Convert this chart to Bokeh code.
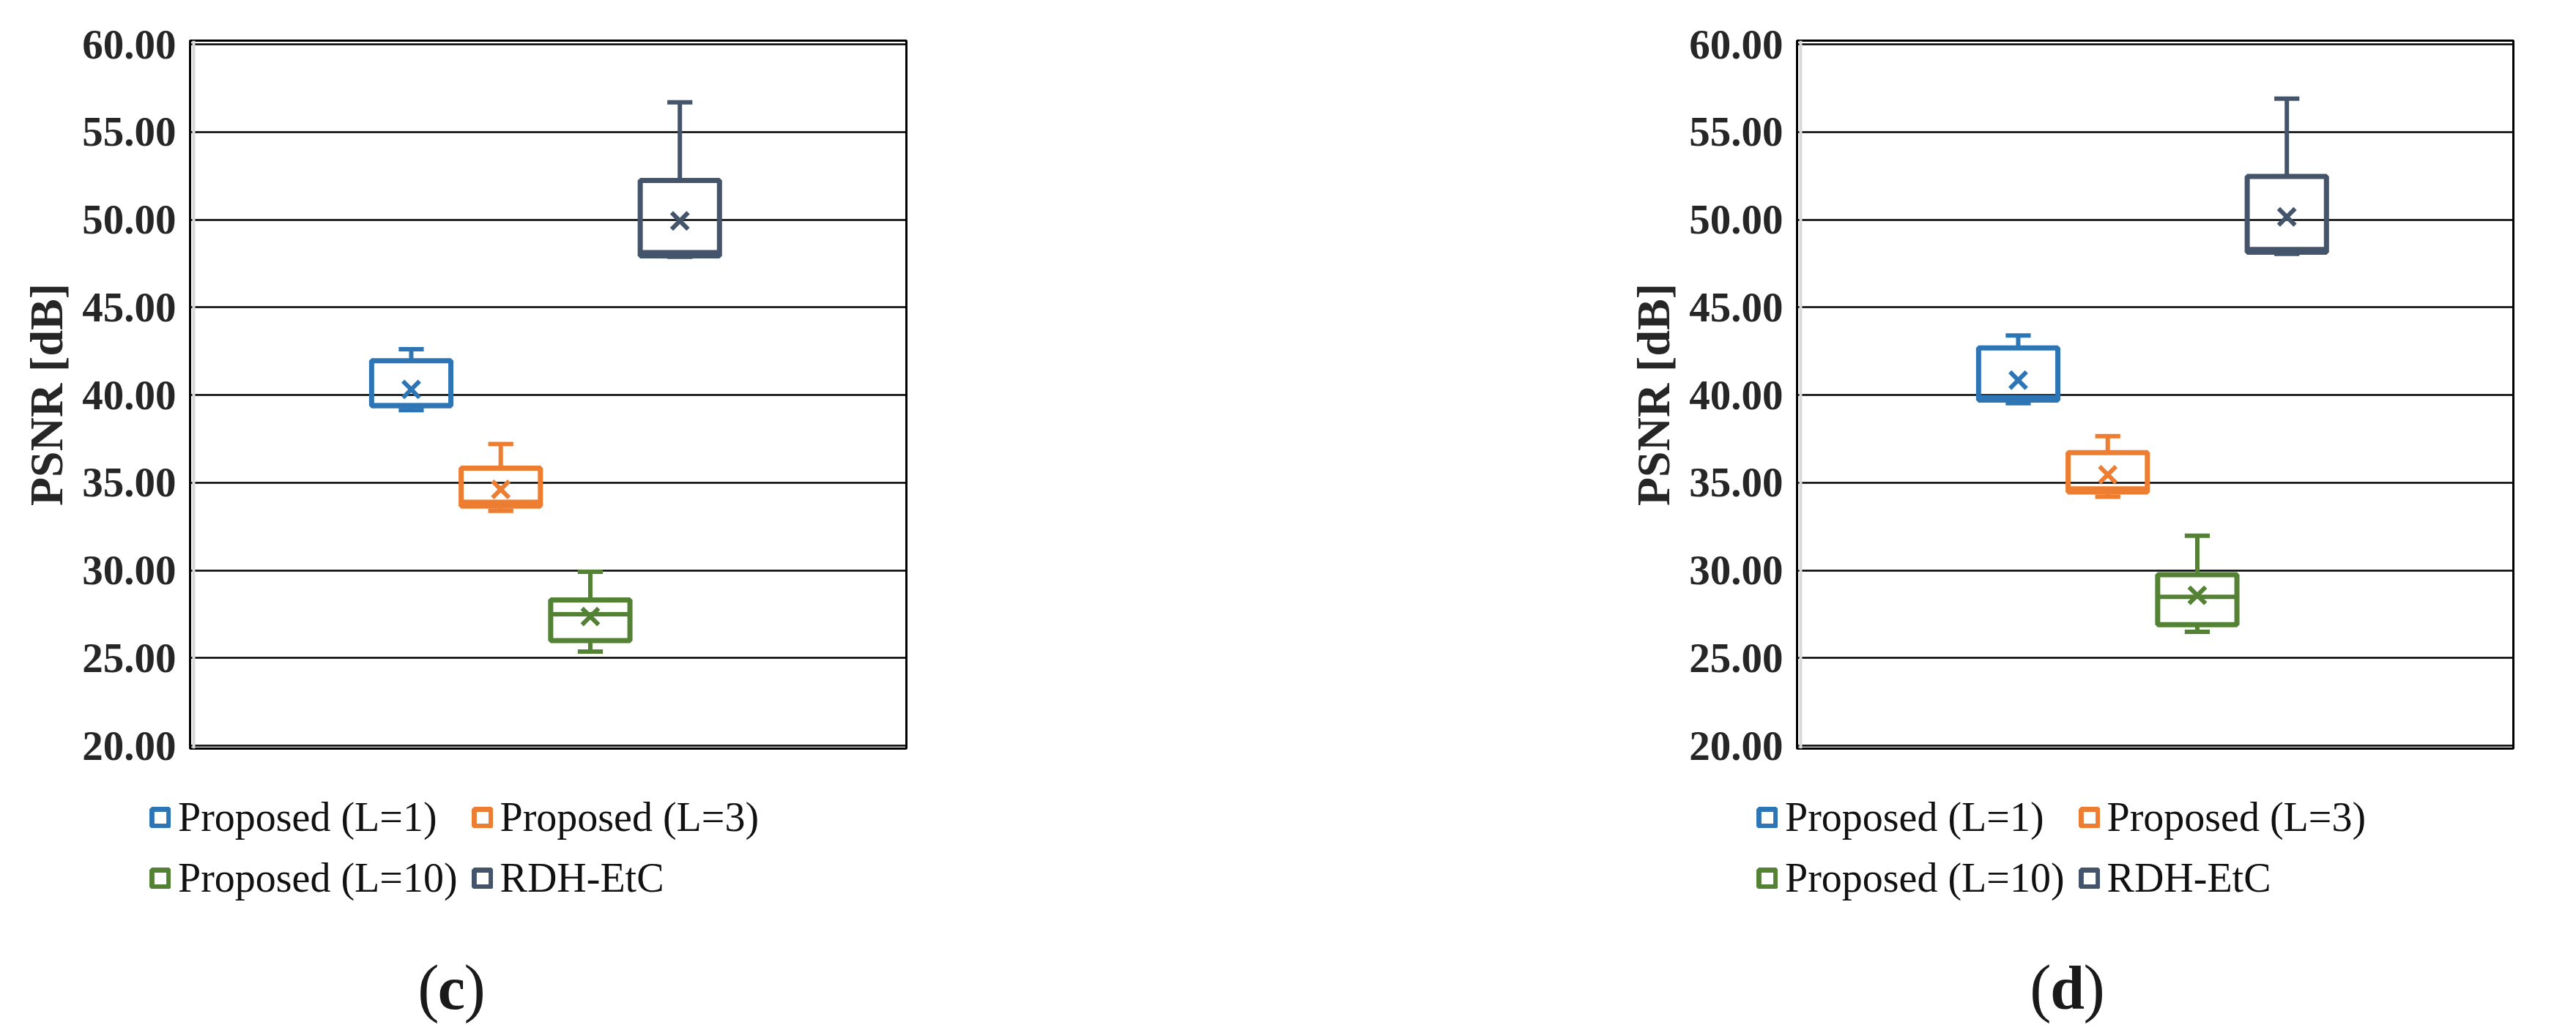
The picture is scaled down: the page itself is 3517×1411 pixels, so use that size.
from bokeh.plotting import figure
from bokeh.layouts import row, column
from bokeh.models import (Range1d, FixedTicker, PrintfTickFormatter, Legend, LegendItem,
                          Label, Span, ColumnDataSource)
from bokeh.embed import file_html
from bokeh.resources import INLINE

# ---------------- data ----------------
series_names = ["Proposed (L=1)", "Proposed (L=3)", "Proposed (L=10)", "RDH-EtC"]
colors = ["#2E75B6", "#ED7D31", "#548235", "#44546A"]
y_ticks = [20, 25, 30, 35, 40, 45, 50, 55, 60]
y_label = "PSNR [dB]"

# panel (c)
c_min    = [39.14, 33.40, 25.37, 47.88]
c_q1     = [39.39, 33.67, 26.00, 47.94]
c_median = [39.42, 33.91, 27.50, 48.14]
c_q3     = [41.96, 35.83, 28.31, 52.24]
c_max    = [42.61, 37.21, 29.92, 56.69]
c_mean   = [40.32, 34.62, 27.37, 49.93]

# panel (d)
d_min    = [39.53, 34.20, 26.50, 48.05]
d_q1     = [39.71, 34.47, 26.91, 48.14]
d_median = [39.88, 34.67, 28.49, 48.32]
d_q3     = [42.69, 36.72, 29.75, 52.47]
d_max    = [43.40, 37.66, 31.98, 56.90]
d_mean   = [40.85, 35.46, 28.58, 50.16]

SERIF = "Liberation Serif"
MAIN_H = 1052
BOT_H = 1411 - MAIN_H
LEG_TOP = 1084


def box_source(mins, q1, med, q3, maxs, means):
    xs = list(range(len(series_names)))
    bw = 0.885   # box width (units)
    cw = 0.28    # cap width
    return ColumnDataSource(dict(
        x=xs, left=[x - bw / 2 for x in xs], right=[x + bw / 2 for x in xs],
        cl=[x - cw / 2 for x in xs], cr=[x + cw / 2 for x in xs],
        mn=mins, q1=q1, med=med, q3=q3, mx=maxs, mean=means, color=colors))


def make_panel(src, width, bl, br):
    p = figure(width=width, height=MAIN_H, x_range=Range1d(-2.47, 5.53),
               y_range=Range1d(19.84, 60.21), x_axis_type=None,
               toolbar_location=None, output_backend="svg", frame_align=False,
               min_border_left=bl, min_border_right=br,
               min_border_top=55, min_border_bottom=30,
               outline_line_color="black", outline_line_width=3,
               background_fill_color="white", border_fill_color="white")

    p.add_layout(Span(location=-2.47 + 5 / 122.25, dimension="height",
                      line_color="#D9D9D9", line_width=4, level="underlay"))

    p.segment(x0="x", y0="q3", x1="x", y1="mx", source=src, line_color="color", line_width=6)
    p.segment(x0="x", y0="mn", x1="x", y1="q1", source=src, line_color="color", line_width=6)
    p.segment(x0="cl", y0="mx", x1="cr", y1="mx", source=src, line_color="color", line_width=6)
    p.segment(x0="cl", y0="mn", x1="cr", y1="mn", source=src, line_color="color", line_width=6)
    p.quad(left="left", right="right", bottom="q1", top="q3", source=src,
           fill_color=None, line_color="color", line_width=7)
    p.segment(x0="left", y0="med", x1="right", y1="med", source=src, line_color="color", line_width=6)
    p.scatter(x="x", y="mean", source=src, marker="x", size=32, line_width=6, line_color="color")

    p.yaxis.ticker = FixedTicker(ticks=y_ticks)
    p.yaxis.formatter = PrintfTickFormatter(format="%.2f")
    p.yaxis.major_label_text_font = SERIF
    p.yaxis.major_label_text_font_style = "bold"
    p.yaxis.major_label_text_font_size = "57px"
    p.yaxis.major_label_text_color = "#262626"
    p.yaxis.axis_line_color = None
    p.yaxis.major_tick_line_color = None
    p.yaxis.minor_tick_line_color = None
    p.yaxis.major_tick_out = 0
    p.yaxis.major_tick_in = 0
    p.yaxis.minor_tick_out = 0
    p.yaxis.major_label_standoff = 19
    p.yaxis.axis_label = y_label
    p.yaxis.axis_label_text_font = SERIF
    p.yaxis.axis_label_text_font_style = "bold"
    p.yaxis.axis_label_text_font_size = "64px"
    p.yaxis.axis_label_text_color = "#262626"
    p.yaxis.axis_label_standoff = 10
    p.ygrid.ticker = FixedTicker(ticks=y_ticks)
    p.ygrid.grid_line_color = "black"
    p.ygrid.grid_line_width = 2.5
    p.xgrid.visible = False
    return p


def make_bottom(src, width, bl, x0, tag, cap_x):
    # a figure whose data coordinates equal page pixels (y downward)
    b = figure(width=width, height=BOT_H, x_range=Range1d(x0, x0 + width - bl),
               y_range=Range1d(1411, LEG_TOP), x_axis_type=None, y_axis_type=None,
               toolbar_location=None, output_backend="svg", frame_align=False,
               min_border_left=bl, min_border_right=0,
               min_border_top=LEG_TOP - MAIN_H, min_border_bottom=0,
               outline_line_color=None, background_fill_color="white",
               border_fill_color="white")
    b.grid.visible = False
    # legend proxy: same boxes (their data lie outside this figure's visible ranges)
    proxy = b.quad(left="left", right="right", bottom="q1", top="q3", source=src,
                   fill_color=None, line_color="color", line_width=7)
    items = [LegendItem(label=n, renderers=[proxy], index=i) for i, n in enumerate(series_names)]
    legend = Legend(items=items, location="top_left", orientation="horizontal", ncols=2,
                    glyph_width=29, glyph_height=29, label_standoff=10, spacing=19,
                    label_height=62, padding=0, margin=0, border_line_alpha=0,
                    background_fill_alpha=0, label_text_font=SERIF,
                    label_text_font_size="56px", label_text_color="#111111")
    b.add_layout(legend)
    half = 17 if tag == "c" else 22
    common = dict(y=1349, text_baseline="alphabetic", text_font=SERIF, text_color="#1a1a1a")
    b.add_layout(Label(x=cap_x - half, text="(", text_align="right", text_font_size="88px", **common))
    b.add_layout(Label(x=cap_x, text=tag, text_align="center", text_font_style="bold",
                       text_font_size="84px", **common))
    b.add_layout(Label(x=cap_x + half, text=")", text_align="left", text_font_size="88px", **common))
    return b


src_c = box_source(c_min, c_q1, c_median, c_q3, c_max, c_mean)
src_d = box_source(d_min, d_q1, d_median, d_q3, d_max, d_mean)
pc = make_panel(src_c, width=1808, bl=259, br=571)
pd_ = make_panel(src_d, width=1709, bl=645, br=86)
bc = make_bottom(src_c, 1808, 204, 204, "c", 616)
bd = make_bottom(src_d, 1709, 590, 2398, "d", 2822)

layout = row(column(pc, bc, spacing=0), column(pd_, bd, spacing=0), spacing=0)
open("out.html", "w").write(file_html(layout, INLINE))
